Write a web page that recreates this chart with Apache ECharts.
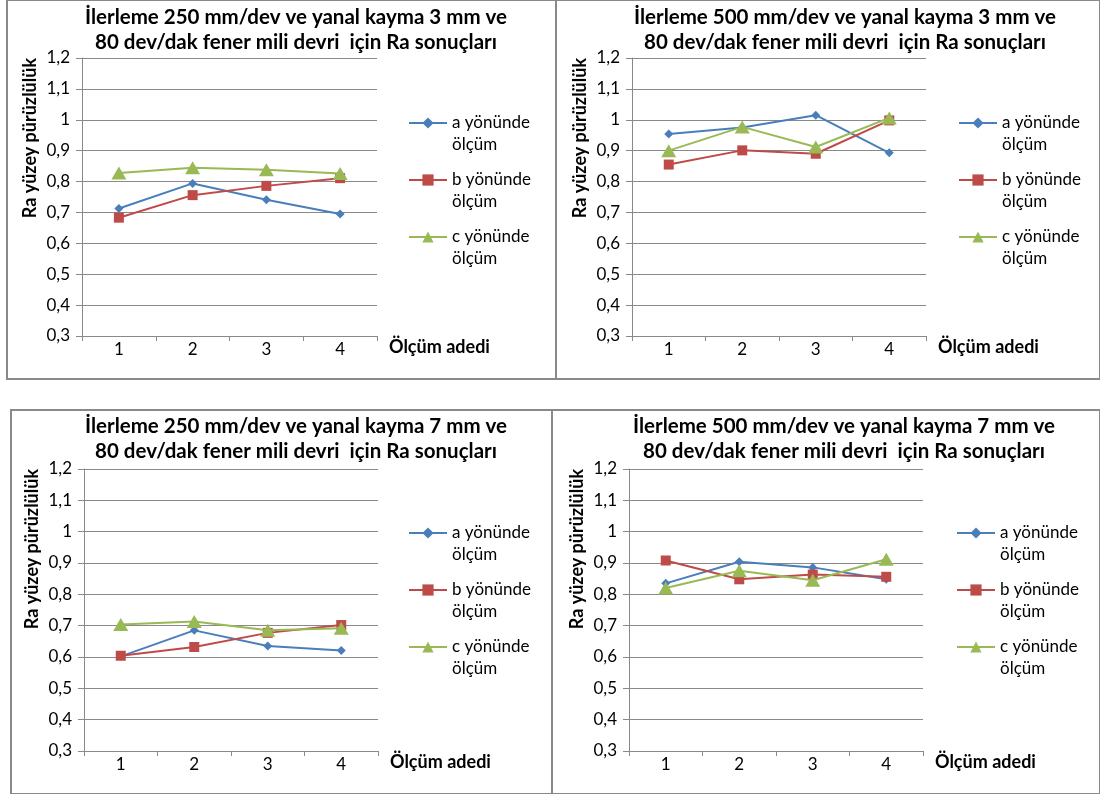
<!DOCTYPE html>
<html>
<head>
<meta charset="utf-8">
<script src="https://cdn.jsdelivr.net/npm/echarts@6/dist/echarts.min.js"></script>
<style>
  html, body { margin: 0; padding: 0; background: #ffffff; }
  #chart { width: 1100px; height: 794px; }
</style>
</head>
<body>
<div id="chart"></div>
<script>
// Measurement index along the x axis
const categories = ['1', '2', '3', '4'];

// Y axis range and step (Ra values)
const yMin = 0.3;
const yMax = 1.2;
const yStep = 0.1;

// Series names
const seriesNames = ['a yönünde ölçüm', 'b yönünde ölçüm', 'c yönünde ölçüm'];

// Panel titles
const titles = [
  'İlerleme 250 mm/dev ve yanal kayma 3 mm ve\n80 dev/dak fener mili devri  için Ra sonuçları',
  'İlerleme 500 mm/dev ve yanal kayma 3 mm ve\n80 dev/dak fener mili devri  için Ra sonuçları',
  'İlerleme 250 mm/dev ve yanal kayma 7 mm ve\n80 dev/dak fener mili devri  için Ra sonuçları',
  'İlerleme 500 mm/dev ve yanal kayma 7 mm ve\n80 dev/dak fener mili devri  için Ra sonuçları'
];

// Ra results: feed 250, side step 3 mm
const a250s3 = [0.713, 0.794, 0.741, 0.695];
const b250s3 = [0.683, 0.756, 0.786, 0.811];
const c250s3 = [0.828, 0.845, 0.838, 0.826];

// Ra results: feed 500, side step 3 mm
const a500s3 = [0.954, 0.975, 1.015, 0.893];
const b500s3 = [0.855, 0.901, 0.890, 0.998];
const c500s3 = [0.900, 0.977, 0.912, 1.006];

// Ra results: feed 250, side step 7 mm
const a250s7 = [0.602, 0.685, 0.635, 0.621];
const b250s7 = [0.604, 0.632, 0.677, 0.702];
const c250s7 = [0.704, 0.713, 0.685, 0.692];

// Ra results: feed 500, side step 7 mm
const a500s7 = [0.835, 0.904, 0.886, 0.848];
const b500s7 = [0.908, 0.848, 0.863, 0.856];
const c500s7 = [0.820, 0.875, 0.845, 0.912];

const panelData = [
  [a250s3, b250s3, c250s3],
  [a500s3, b500s3, c500s3],
  [a250s7, b250s7, c250s7],
  [a500s7, b500s7, c500s7]
];

// ---- layout & style ----
const FONT = 'Lato, "Liberation Sans", sans-serif';
const GRAY = '#898989';
const colors = ['#4A7EBB', '#BE4B48', '#98B954'];
const symbols = ['diamond', 'rect', 'triangle'];
const symbolSizes = [9, 10, [15, 13]];

// plot rectangles of the four panels
const grids = [
  { left: 82,  top: 58,  width: 295, height: 278 },
  { left: 632, top: 58,  width: 294, height: 278 },
  { left: 84,  top: 469, width: 294, height: 282 },
  { left: 629, top: 469, width: 294, height: 282 }
];
const titleCenters = [[296, 5], [845, 5], [296, 414], [844, 414]];
// legend boxes (first icon sits 33px below the top)
const legendPos = [[408, 90], [958, 90], [408, 500], [956, 500]];
// panel frames
const frames = [
  { x: 7,   y: 0,   w: 549, h: 379 },
  { x: 556, y: 0,   w: 544, h: 379 },
  { x: 11,  y: 410, w: 541, h: 384 },
  { x: 552, y: 410, w: 548, h: 384 }
];

function fmtTick(v) {
  const r = Math.round(v * 10) / 10;
  return String(r).replace('.', ',');
}

const option = {
  backgroundColor: '#ffffff',
  animation: false,
  textStyle: { fontFamily: FONT },
  title: titles.map((t, i) => ({
    text: t,
    left: titleCenters[i][0],
    top: titleCenters[i][1],
    textAlign: 'center',
    padding: 0,
    textStyle: { fontFamily: FONT, fontWeight: 'bold', fontSize: 20.5, lineHeight: 25, color: '#000' }
  })),
  legend: legendPos.map((p, i) => ({
    show: true,
    orient: 'vertical',
    left: p[0],
    top: p[1],
    padding: 0,
    itemGap: -9,
    itemWidth: 38,
    itemHeight: 14,
    data: seriesNames,
    // leading blank line keeps the icon level with the first text line
    formatter: n => '\n' + n.replace(' ölçüm', '\nölçüm'),
    textStyle: { fontFamily: FONT, fontSize: 17, lineHeight: 22, color: '#000' },
    selectedMode: false
  })),
  grid: grids.map(g => Object.assign({ containLabel: false }, g)),
  xAxis: grids.map((g, i) => ({
    type: 'category',
    gridIndex: i,
    data: categories,
    boundaryGap: true,
    name: 'Ölçüm adedi',
    nameLocation: 'end',
    nameGap: 12,
    nameTextStyle: {
      fontFamily: FONT, fontWeight: 'bold', fontSize: 18, color: '#000',
      align: 'left', verticalAlign: 'top', padding: [2, 0, 0, 0]
    },
    axisLine: { show: true, lineStyle: { color: GRAY, width: 1 } },
    axisTick: { show: true, alignWithLabel: false, length: 5, lineStyle: { color: GRAY } },
    axisLabel: { fontFamily: FONT, fontSize: 17, color: '#000', margin: 5 },
    splitLine: { show: false }
  })),
  yAxis: grids.map((g, i) => ({
    type: 'value',
    gridIndex: i,
    min: yMin,
    max: yMax,
    interval: yStep,
    name: 'Ra yüzey pürüzlülük',
    nameLocation: 'end',
    nameGap: 0,
    nameRotate: 90,
    nameTextStyle: {
      fontFamily: FONT, fontWeight: 'bold', fontSize: 18, color: '#000',
      align: 'right', verticalAlign: 'bottom', padding: [0, 0, 43, 0]
    },
    axisLine: { show: true, lineStyle: { color: GRAY, width: 1 } },
    axisTick: { show: true, length: 6, lineStyle: { color: GRAY } },
    axisLabel: { fontFamily: FONT, fontSize: 17, color: '#000', margin: 12, formatter: fmtTick },
    splitLine: { show: true, lineStyle: { color: GRAY, width: 1 } }
  })),
  graphic: frames.map(f => ({
    type: 'rect',
    shape: { x: f.x, y: f.y, width: f.w, height: f.h },
    style: { fill: null, stroke: GRAY, lineWidth: 2 },
    silent: true,
    z: -1
  })),
  series: []
};

panelData.forEach((sets, i) => {
  sets.forEach((vals, k) => {
    option.series.push({
      type: 'line',
      name: seriesNames[k],
      xAxisIndex: i,
      yAxisIndex: i,
      data: vals,
      symbol: symbols[k],
      symbolSize: symbolSizes[k],
      showAllSymbol: true,
      color: colors[k],
      lineStyle: { color: colors[k], width: 2 },
      itemStyle: { color: colors[k] },
      z: 2 + k
    });
  });
});

const chart = echarts.init(document.getElementById('chart'), null, { renderer: 'canvas' });
chart.setOption(option);
</script>
</body>
</html>
